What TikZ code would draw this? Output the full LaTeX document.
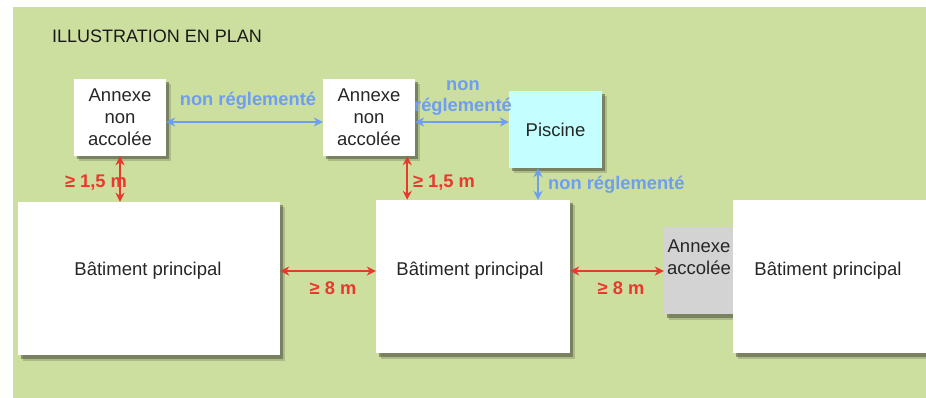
\documentclass[tikz,border=0pt]{standalone}
\usepackage{fontspec}
\setmainfont{Liberation Sans}
\usetikzlibrary{arrows.meta,shadows,calc}
\definecolor{bggreen}{HTML}{CDDF9F}
\definecolor{bluelab}{HTML}{6E9EF0}
\definecolor{redlab}{HTML}{E8392F}
\definecolor{pisc}{HTML}{C4FEFE}
\definecolor{grayacc}{HTML}{D3D3D3}
\definecolor{shadowc}{HTML}{4E5240}
\begin{document}
\begin{tikzpicture}[x=1pt,y=-1pt,
  txt/.style={font=\fontsize{18.5}{22}\selectfont, align=center, text=black!85},
  box/.style={draw=none, inner sep=0pt, txt,
     drop shadow={shadow xshift=5pt, shadow yshift=-5.5pt, fill=shadowc, opacity=0.25},
     drop shadow={shadow xshift=3pt, shadow yshift=-3.5pt, fill=shadowc, opacity=0.55}},
  bluetxt/.style={font=\bfseries\fontsize{18.3}{21}\selectfont, text=bluelab, align=center, inner sep=0pt},
  redtxt/.style={font=\bfseries\fontsize{18.3}{21}\selectfont, text=redlab, inner sep=0pt},
  bluearr/.style={draw=bluelab, line width=1.5pt, {Stealth[length=9pt,width=9pt]}-{Stealth[length=9pt,width=9pt]}},
  redarr/.style={draw=redlab, line width=1.5pt, {Stealth[length=9pt,width=9pt]}-{Stealth[length=9pt,width=9pt]}}
]
\useasboundingbox (0,0) rectangle (926,398);
\clip (0,0) rectangle (926,398);
\fill[white] (0,0) rectangle (926,398);
\fill[bggreen] (13,7) rectangle (926,398);

\node[anchor=base west, inner sep=0pt, font=\fontsize{18}{20}\selectfont, text=black!90] (title) at (52,43) {ILLUSTRATION EN PLAN};

% boxes
\node[box, fill=white, minimum width=92pt, minimum height=77pt] (a1) at (120,117.5) {Annexe\\non\\accolée};
\node[box, fill=white, minimum width=92pt, minimum height=77pt] (a2) at (369,117.5) {Annexe\\non\\accolée};
\node[box, fill=pisc, minimum width=93pt, minimum height=77pt] (pis) at (555.5,129.5) {Piscine};
\node[box, fill=white, minimum width=262pt, minimum height=153pt] (b1) at (149,278.5) {};
\node[txt, inner sep=0pt] (b1txt) at (148,271) {Bâtiment principal};
\node[box, fill=white, minimum width=194pt, minimum height=153pt] (b2) at (473,276.5) {};
\node[txt, inner sep=0pt] (b2txt) at (470,271) {Bâtiment principal};
\node[box, fill=grayacc, minimum width=69pt, minimum height=87pt] (acc) at (698.5,270.5) {};
\node[txt, inner sep=0pt] (acctxt) at (699,257) {Annexe\\accolée};
\node[box, fill=white, minimum width=194pt, minimum height=153pt] (b3) at (830,276.5) {};
\node[txt, inner sep=0pt] (b3txt) at (828,271) {Bâtiment principal};

% blue connectors
\draw[bluearr] ($(a1.east)+(0,4.5)$) -- ($(a2.west)+(0,4.5)$);
\coordinate (ae) at ($(a2.east)+(0,4.5)$);
\draw[bluearr] (ae) -- (ae -| pis.west);
\coordinate (ps) at ($(pis.south)+(-17.5,0)$);
\draw[bluearr] (ps) -- (ps |- b2.north);

% red connectors
\draw[redarr] (a1.south) -- (a1.south |- b1.north);
\coordinate (as) at ($(a2.south east)+(-8,0)$);
\draw[redarr] (as) -- (as |- b2.north);
\coordinate (be) at ($(b1.east)+(0,-7.5)$);
\draw[redarr] (be) -- (be -| b2.west);
\coordinate (be2) at ($(b2.east)+(0,-5.5)$);
\draw[redarr] (be2) -- (be2 -| acc.west);

% labels
\node[bluetxt] (l1) at (248,101) {non réglementé};
\node[bluetxt] (l2) at (463,98) {non\\réglementé};
\node[bluetxt, anchor=west] (l3) at (548,185) {non réglementé};
\node[redtxt] (r1) at (96,183) {≥ 1,5 m};
\node[redtxt] (r2) at (444,183) {≥ 1,5 m};
\node[redtxt] (r3) at (333,288) {≥ 8 m};
\node[redtxt] (r4) at (621,288) {≥ 8 m};
\end{tikzpicture}
\end{document}
